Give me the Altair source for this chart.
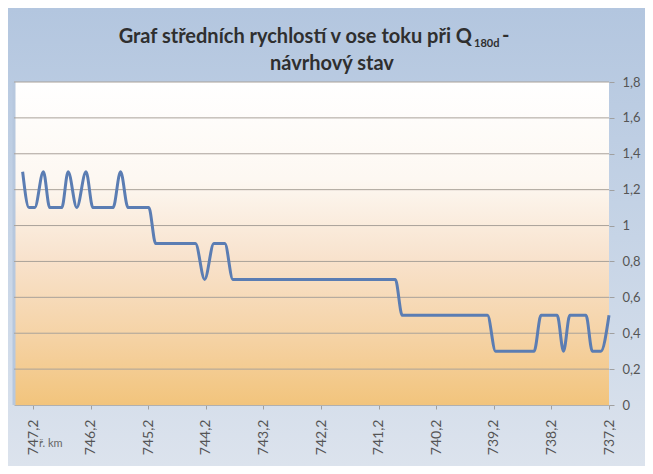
import altair as alt
import pandas as pd

# river km (x) and mean velocity (y)
km = [747.38, 747.27, 747.17, 747.02, 746.91, 746.70, 746.59, 746.44, 746.28, 746.16,
      745.81, 745.68, 745.55, 745.19, 745.07, 744.38, 744.22, 744.06, 743.87, 743.73,
      740.91, 740.79, 739.31, 739.17, 738.50, 738.38, 738.10, 737.99, 737.88, 737.60,
      737.49, 737.34, 737.20]
velocity = [1.3, 1.1, 1.1, 1.3, 1.1, 1.1, 1.3, 1.1, 1.3, 1.1,
            1.1, 1.3, 1.1, 1.1, 0.9, 0.9, 0.7, 0.9, 0.9, 0.7,
            0.7, 0.5, 0.5, 0.3, 0.3, 0.5, 0.5, 0.3, 0.5, 0.5,
            0.3, 0.3, 0.5]

x_ticks = [747.2, 746.2, 745.2, 744.2, 743.2, 742.2, 741.2, 740.2, 739.2, 738.2, 737.2]
y_ticks = [0, 0.2, 0.4, 0.6, 0.8, 1.0, 1.2, 1.4, 1.6, 1.8]

title_main = "Graf středních rychlostí v ose toku při Q"
title_sub = "180d"
title_tail = "-"
title_line2 = "návrhový stav"
x_label = "ř. km"

W, H = 595, 323
PAD = {"left": 6, "top": 74, "right": 36, "bottom": 61}
FONT = "Lato"

df = pd.DataFrame({"km": km, "v": velocity})
grid_df = pd.DataFrame({"v": y_ticks[1:]})
one = pd.DataFrame({"a": [0]})

xscale = alt.Scale(domain=[737.2, 747.53], reverse=True, nice=False, zero=False)
yscale = alt.Scale(domain=[0, 1.8], nice=False, zero=True)

y_axis = alt.Axis(orient="right", values=y_ticks, title=None,
                  labelExpr="replace(format(datum.value, '.1~f'), '.', ',')",
                  labelFont=FONT, labelFontSize=13, labelColor="#555555",
                  labelAlign="left", labelPadding=8, labelOverlap=False,
                  tickSize=5, tickColor="#a0a0a0", domain=False,
                  grid=False, zindex=1)

backdrop = alt.Chart(one).mark_rect(
    color=alt.LinearGradient(
        gradient="linear", x1=0, y1=0, x2=0, y2=1,
        stops=[alt.GradientStop(offset=0, color="#b3c6df"),
               alt.GradientStop(offset=0.5, color="#c6d4e6"),
               alt.GradientStop(offset=1, color="#dce3ed")])
).encode(x=alt.value(-PAD["left"]), x2=alt.value(W + PAD["right"]),
         y=alt.value(-PAD["top"]), y2=alt.value(H + PAD["bottom"]))

plotbg = alt.Chart(one).mark_rect(
    color=alt.LinearGradient(
        gradient="linear", x1=0, y1=0, x2=0, y2=1,
        stops=[alt.GradientStop(offset=0, color="#ffffff"),
               alt.GradientStop(offset=0.3, color="#fdf8f2"),
               alt.GradientStop(offset=0.55, color="#f8e2cc"),
               alt.GradientStop(offset=0.8, color="#f5d2a3"),
               alt.GradientStop(offset=1, color="#f2c47c")])
).encode(x=alt.value(0), x2=alt.value(W), y=alt.value(0), y2=alt.value(H))

leftedge = alt.Chart(one).mark_rule(color="#b7c8de", strokeWidth=3).encode(
    x=alt.value(0), y=alt.value(0), y2=alt.value(H))

grid = alt.Chart(grid_df).mark_rule(color="#a9a29a", strokeWidth=1).encode(
    y=alt.Y("v:Q", scale=yscale, axis=y_axis),
    x=alt.value(0), x2=alt.value(W))

line = alt.Chart(df).mark_line(color="#5b7db3", strokeWidth=3, interpolate="monotone").encode(
    x=alt.X("km:Q", scale=xscale,
            axis=alt.Axis(values=x_ticks, title=None, labelAngle=270,
                          labelExpr="replace(format(datum.value, '.1f'), '.', ',')",
                          labelFont=FONT, labelFontSize=14, labelColor="#555555",
                          labelOverlap=False,
                          tickSize=4, tickColor="#a0a0a0", domainColor="#b0b0b0",
                          labelPadding=10, grid=False, zindex=1)),
    y=alt.Y("v:Q", scale=yscale, axis=y_axis),
)

def txt(text, x, y, size, bold=True, align="left", color="#2f2f2f"):
    return alt.Chart(one).mark_text(
        text=text, font=FONT, fontSize=size, fontWeight="bold" if bold else "normal",
        align=align, baseline="alphabetic", color=color
    ).encode(x=alt.value(x), y=alt.value(y))

t1 = txt(title_main, 458, -39, 20, align="right")
t2 = txt(title_sub, 460, -35, 11, align="left")
t3 = txt(title_tail, 488, -40, 20, align="left")
t4 = txt(title_line2, 318, -12, 20, align="center")
t5 = txt(x_label, 25, 365, 11, bold=False, color="#666666")

chart = alt.layer(backdrop, plotbg, leftedge, grid, line, t1, t2, t3, t4, t5).properties(
    width=W, height=H,
    autosize=alt.AutoSizeParams(type="none"),
    padding=PAD,
).configure_view(strokeWidth=0).configure_axis(labelOverlap=False)

chart.save("out.html", embed_options={"renderer": "svg", "actions": False})
